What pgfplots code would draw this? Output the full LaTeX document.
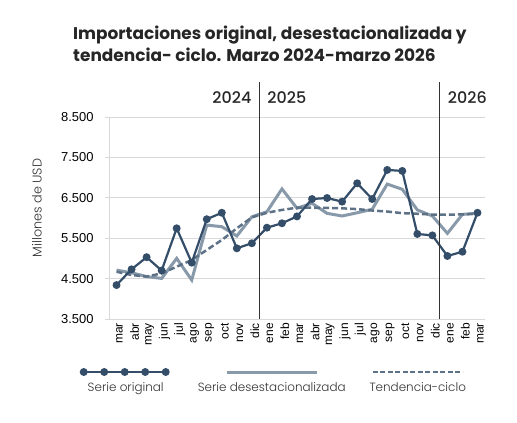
\documentclass[border=0pt]{standalone}
\usepackage{pgfplots}
\pgfplotsset{compat=1.18}
\usepackage{pgfplotstable}
\usepackage{fontspec}
\setmainfont{Poppins}
\newfontfamily\arial{Liberation Sans}
\newfontfamily\popmed{Poppins Medium}
\newfontfamily\poplight{Poppins Light}
\definecolor{orig}{HTML}{344E6A}
\definecolor{dese}{HTML}{8899A9}
\definecolor{tend}{HTML}{5D7187}
\definecolor{gridc}{HTML}{D9D9D9}
\pgfplotstableread{
i orig dese tend
0 4340 4710 4670
1 4730 4645 4590
2 5030 4550 4550
3 4700 4505 4630
4 5745 5000 4795
5 4895 4465 4960
6 5970 5825 5210
7 6130 5785 5455
8 5250 5555 5745
9 5375 6030 6015
10 5760 6155 6130
11 5870 6720 6200
12 6040 6240 6255
13 6470 6365 6255
14 6495 6115 6250
15 6405 6050 6240
16 6860 6130 6220
17 6470 6215 6185
18 7190 6840 6160
19 7165 6710 6120
20 5605 6200 6105
21 5570 6050 6085
22 5060 5620 6080
23 5165 6090 6090
24 6130 6115 6110
}\datatable
\begin{document}
\begin{tikzpicture}[x=1bp,y=1bp]
\path[use as bounding box] (0,0) rectangle (517,422);
\node[anchor=base west,inner sep=0pt,font=\fontsize{17}{19}\selectfont\bfseries,text=black!85] at (73,383) {Importaciones original, desestacionalizada y};
\node[anchor=base west,inner sep=0pt,font=\fontsize{17}{19}\selectfont\bfseries,text=black!85] at (73,361) {tendencia- ciclo. Marzo 2024-marzo 2026};
\node[rotate=90,font=\poplight\fontsize{12.8}{14}\selectfont,text=black!80] at (37,214) {Millones de USD};
\begin{axis}[
  at={(109bp,103bp)}, anchor=south west,
  width=376bp, height=202bp, scale only axis,
  xmin=-0.5, xmax=24.5, ymin=3500, ymax=8500,
  clip=false,
  axis x line*=bottom, axis y line*=left,
  axis line style={gridc, line width=1bp},
  ymajorgrids, grid style={gridc, line width=1bp},
  xtick={0,...,24},
  xticklabels={mar,abr,may,jun,jul,ago,sep,oct,nov,dic,ene,feb,mar,abr,may,jun,jul,ago,sep,oct,nov,dic,ene,feb,mar},
  xticklabel style={rotate=90, anchor=east, font=\arial\fontsize{12}{12}\selectfont, yshift=-3bp, inner sep=0pt},
  xtick style={draw=none},
  ytick={3500,4500,5500,6500,7500,8500},
  yticklabels={3.500,4.500,5.500,6.500,7.500,8.500},
  yticklabel style={font=\arial\fontsize{13}{13}\selectfont, xshift=-8bp},
  ytick style={gridc, line width=1bp},
  tick align=outside, major tick length=4bp,
  legend columns=3,
  legend style={at={(-0.1502,-0.3416)}, anchor=west, draw=none, fill=none,
    inner sep=0pt, column sep=3bp, nodes={inner sep=0pt},
    font=\poplight\fontsize{12}{14}\selectfont, text=black!80},
]
\addlegendimage{legend image code/.code={
  \draw[overlay, orig, line width=2.2bp, mark=*, mark size=2.8bp, mark options={fill=orig}]
    plot coordinates {(31bp,16bp) (51.5bp,16bp) (72bp,16bp) (92.5bp,16bp) (113bp,16bp)};}}
\addlegendentry{\makebox[140bp][c]{Serie original}}
\addlegendimage{legend image code/.code={
  \draw[overlay, dese, line width=3bp] (28bp,16bp) -- (118bp,16bp);}}
\addlegendentry{\makebox[140bp][c]{Serie desestacionalizada}}
\addlegendimage{legend image code/.code={
  \draw[overlay, tend, line width=2.5bp, dash pattern=on 5bp off 2.5bp] (28bp,16bp) -- (118bp,16bp);}}
\addlegendentry{\makebox[140bp][c]{Tendencia-ciclo}}

\addplot[dese, line width=3bp, forget plot] table[x=i, y=dese] {\datatable};
\addplot[tend, line width=2.5bp, dash pattern=on 6bp off 3bp, forget plot] table[x=i, y=tend] {\datatable};
\addplot[orig, line width=2.2bp, mark=*, mark size=2.8bp, mark options={fill=orig}, forget plot] table[x=i, y=orig] {\datatable};

\draw[black!80, line width=0.9bp] (axis cs:9.5,3500) -- (axis cs:9.5,9370);
\draw[black!80, line width=0.9bp] (axis cs:21.5,3500) -- (axis cs:21.5,9370);
\node[anchor=east, font=\popmed\fontsize{16}{18}\selectfont, text=black!85] at (axis cs:9.2,8990) {2024};
\node[anchor=west, font=\popmed\fontsize{16}{18}\selectfont, text=black!85] at (axis cs:9.8,8990) {2025};
\node[anchor=west, font=\popmed\fontsize{16}{18}\selectfont, text=black!85] at (axis cs:21.8,8990) {2026};
\end{axis}
\end{tikzpicture}
\end{document}
